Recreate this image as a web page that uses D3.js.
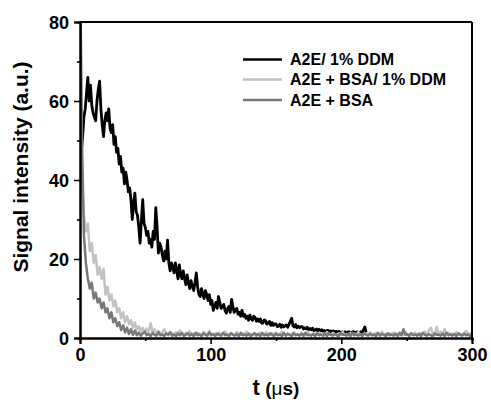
<!DOCTYPE html>
<html>
<head>
<meta charset="utf-8">
<script src="https://cdn.jsdelivr.net/npm/d3@7/dist/d3.min.js"></script>
<style>
  html, body { margin: 0; padding: 0; background: #fff; }
  svg text { font-family: "Liberation Sans", Arial, sans-serif; font-weight: bold; }
</style>
</head>
<body>
<div id="chart"></div>
<script>
// ---- data ----
const seriesNames = ["A2E/ 1% DDM", "A2E + BSA/ 1% DDM", "A2E + BSA"];
const xTicks = [0, 100, 200, 300];
const yTicks = [0, 20, 40, 60, 80];
const xMinorTicks = [50, 150, 250];
const yMinorTicks = [10, 30, 50, 70];

// A2E/ 1% DDM : sampled every 1 µs from t = 0
const blackStep = 1;
const blackValues = [
  48, 47, 51, 56, 58, 62, 66, 60, 64, 59,
  57, 56, 55, 60, 63, 65, 58, 54, 51, 55,
  57, 55, 58, 53, 52, 54, 49, 51, 47, 48,
  44, 46, 42, 43, 39, 42, 40, 37, 38, 35,
  30, 34, 36.7, 32, 31, 28, 24, 30, 35, 29,
  28, 26, 27, 24, 25, 23, 27, 25, 33, 28,
  21.5, 24, 23, 21, 19.5, 22, 20, 24.8, 19, 17,
  19, 18, 16.5, 19, 17, 15, 18.5, 16, 15, 17,
  15, 13.5, 16, 14, 12.5, 14.5, 13, 12, 14, 16.5,
  13, 11, 10.5, 12.5, 11, 10, 12, 11, 9.5, 11,
  8.5, 9.5, 7, 8, 9, 7.5, 10.5, 9, 7.5, 8,
  8.5, 7, 6.3, 7.5, 8, 6.5, 9.8, 8, 6.5, 7,
  7.5, 6, 6.5, 5.5, 7, 5.5, 6, 5, 5.5, 4.5,
  5.8, 4.8, 4.5, 5.5, 5.2, 4.2, 4.8, 4.2, 4.8, 3.8,
  3.8, 4.6, 4.4, 3.5, 3.8, 4.2, 3.2, 3.9, 3.2, 3.6,
  3.6, 2.9, 3, 3.5, 2.7, 3.3, 2.8, 3.1, 3.3, 2.7,
  3.5, 4.2, 5, 3.1, 2.8, 3.4, 2.6, 3.0, 2.6, 2.9,
  2.9, 2.3, 2.6, 2.3, 2.7, 2.1, 2.4, 2.1, 2.5, 1.9,
  2, 2.3, 1.8, 2.2, 1.8, 2.1, 1.7, 1.9, 1.6, 1.9,
  1.9, 1.5, 1.8, 1.5, 1.8, 1.4, 1.7, 1.4, 1.7, 1.5,
  1.4, 1.6, 1.3, 1.6, 1.3, 1.5, 1.6, 1.3, 1.4, 1.6,
  1.5, 1.3, 1.6, 1.3, 1.4, 1.6, 1.4, 2.1, 2.8, 1.4
];

// A2E + BSA/ 1% DDM : sampled every 1.5 µs from t = 0
const lightStep = 1.5;
const lightValues = [
  95, 42, 31, 27, 29, 22, 24, 19, 21, 16,
  18, 15, 17.5, 11, 13, 9.5, 11, 8, 9.5, 6.5,
  7.5, 5, 6.5, 4, 5.5, 3.5, 4.5, 2.5, 4, 2,
  3, 1.8, 2.6, 1.4, 2.4, 1.2, 3.8, 1.5, 2.2, 1.2,
  1.8, 1.0, 1.4, 2.2, 1.1, 0.9, 1.6, 1.2, 0.8, 1.5,
  1.1, 1.9, 1.0, 0.8, 1.3, 1.0, 1.7, 0.9, 1.2, 0.8,
  1.4, 1.0, 0.7, 1.5, 1.1, 0.9, 1.8, 1.0, 0.8, 1.2,
  0.9, 1.4, 0.8, 1.1, 1.6, 0.9, 0.7, 1.3, 1.0, 0.8,
  1.5, 1.0, 0.8, 1.2, 0.9, 1.6, 0.8, 1.1, 0.7, 1.3,
  1.0, 0.8, 1.4, 0.9, 0.7, 1.5, 1.0, 0.8, 1.2, 0.9,
  1.4, 0.8, 1.0, 1.6, 0.9, 0.7, 1.2, 1.0, 0.8, 1.5,
  0.9, 1.1, 0.7, 1.3, 1.0, 0.8, 1.6, 0.9, 0.7, 1.2,
  1.0, 0.8, 1.4, 0.9, 1.1, 0.7, 1.5, 0.9, 0.8, 1.3,
  1.0, 0.7, 1.2, 0.9, 1.6, 0.8, 1.0, 0.7, 1.3, 0.9,
  1.1, 0.8, 1.5, 0.9, 0.7, 1.2, 1.0, 0.8, 1.4, 0.9,
  0.7, 1.3, 1.0, 0.8, 1.6, 0.9, 1.1, 0.7, 1.2, 0.9,
  1.4, 0.8, 1.0, 0.7, 1.3, 0.9, 1.5, 0.8, 1.0, 1.2,
  0.8, 1.4, 0.9, 0.7, 1.2, 1.0, 1.6, 0.8, 1.9, 2.6,
  1.2, 0.9, 2.8, 1.0, 1.6, 0.8, 2.3, 1.0, 1.4, 0.8,
  1.2, 0.9, 1.5, 0.8, 1.1, 0.9, 1.3, 1.8, 0.8, 1.2, 0.9
];

// A2E + BSA : sampled every 1.5 µs from t = 0
const darkStep = 1.5;
const darkValues = [
  95, 50, 26, 19, 15, 12.5, 14, 10, 11.5, 9,
  10, 7.5, 9, 6.5, 7.5, 5, 6.5, 4, 5, 3,
  4, 2, 3.2, 1.4, 2.6, 1.0, 2.2, 0.8, 1.9, 0.7,
  1.4, 0.6, 1.2, 1.6, 0.7, 1.0, 0.5, 1.3, 0.8, 0.6,
  1.5, 0.7, 0.9, 0.5, 1.2, 0.8, 1.4, 0.6, 0.9, 0.5,
  1.1, 0.7, 1.3, 0.5, 0.8, 1.2, 0.6, 1.0, 0.5, 1.3,
  0.7, 0.9, 0.5, 1.2, 0.8, 0.6, 1.4, 0.7, 1.0, 0.5,
  1.1, 0.8, 0.6, 1.3, 0.7, 0.9, 0.5, 1.2, 0.8, 0.6,
  1.0, 0.5, 1.3, 0.7, 0.9, 0.6, 1.1, 0.5, 0.8, 1.2,
  0.6, 1.0, 0.5, 1.3, 0.7, 0.9, 0.6, 1.2, 0.8, 0.5,
  1.1, 0.7, 0.9, 0.5, 1.3, 0.6, 1.0, 0.8, 0.5, 1.2,
  0.7, 0.9, 0.6, 1.1, 0.5, 1.3, 0.7, 0.8, 0.6, 1.0,
  0.5, 1.2, 0.7, 0.9, 0.6, 1.1, 0.5, 1.3, 0.8, 0.6,
  1.0, 0.7, 0.5, 1.2, 0.8, 0.9, 0.6, 1.1, 0.5, 1.3,
  0.7, 0.9, 0.6, 1.0, 0.5, 1.2, 0.8, 0.6, 1.1, 0.7,
  0.9, 0.5, 1.3, 0.6, 1.0, 0.8, 0.5, 1.2, 0.7, 0.9,
  0.6, 1.1, 0.5, 1.3, 0.7, 2.2, 0.8, 1.0, 0.5, 1.2,
  0.7, 0.9, 0.6, 1.1, 0.5, 1.3, 0.8, 0.6, 1.0, 0.7,
  0.5, 1.2, 0.8, 0.9, 0.6, 1.1, 0.5, 1.3, 0.7, 0.9,
  0.6, 1.0, 0.5, 1.2, 0.8, 0.6, 1.1, 0.7, 0.9, 0.5, 1.0
];

// ---- layout ----
const W = 491, H = 400;
const margin = { left: 80, right: 19, top: 22, bottom: 62 };
const iw = W - margin.left - margin.right;
const ih = H - margin.top - margin.bottom;

const svg = d3.select("#chart").append("svg")
  .attr("width", W).attr("height", H);

const x = d3.scaleLinear().domain([0, 300]).range([margin.left, margin.left + iw]);
const y = d3.scaleLinear().domain([0, 80]).range([margin.top + ih, margin.top]);

svg.append("defs").append("clipPath").attr("id", "plotclip")
  .append("rect")
  .attr("x", margin.left).attr("y", margin.top)
  .attr("width", iw).attr("height", ih);

const toPts = (vals, step) => vals.map((v, i) => [i * step, v]);
const series = [
  { name: seriesNames[0], pts: toPts(blackValues, blackStep), color: "#000000", w: 2.8 },
  { name: seriesNames[1], pts: toPts(lightValues, lightStep), color: "#c2c2c2", w: 2.5 },
  { name: seriesNames[2], pts: toPts(darkValues, darkStep), color: "#787878", w: 2.5 }
];

const line = d3.line().x(d => x(d[0])).y(d => y(d[1]));
const g = svg.append("g").attr("clip-path", "url(#plotclip)");
series.forEach(s => {
  g.append("path").datum(s.pts)
    .attr("d", line)
    .attr("fill", "none")
    .attr("stroke", s.color)
    .attr("stroke-width", s.w)
    .attr("stroke-linejoin", "round");
});

// ---- axes ----
const axisFont = 18;
const xAxis = svg.append("g").attr("transform", `translate(0,${margin.top + ih})`)
  .call(d3.axisBottom(x).tickValues(xTicks).tickSize(6).tickPadding(4).tickFormat(d3.format("d")));
const xMinor = svg.append("g").attr("transform", `translate(0,${margin.top + ih})`)
  .call(d3.axisBottom(x).tickValues(xMinorTicks).tickSize(3).tickFormat(""));
const yAxis = svg.append("g").attr("transform", `translate(${margin.left},0)`)
  .call(d3.axisLeft(y).tickValues(yTicks).tickSize(6).tickPadding(5).tickFormat(d3.format("d")));
const yMinor = svg.append("g").attr("transform", `translate(${margin.left},0)`)
  .call(d3.axisLeft(y).tickValues(yMinorTicks).tickSize(3).tickFormat(""));

[xAxis, xMinor, yAxis, yMinor].forEach(a => {
  a.select(".domain").attr("stroke", "#000").attr("stroke-width", 2);
  a.selectAll(".tick line").attr("stroke", "#000").attr("stroke-width", 1.6);
  a.selectAll(".tick text")
    .attr("font-family", "Liberation Sans, Arial, sans-serif")
    .attr("font-weight", "bold")
    .attr("font-size", axisFont)
    .attr("fill", "#000");
});
yAxis.selectAll(".tick text").attr("dy", "0.36em");

// frame top and right
svg.append("line")
  .attr("x1", margin.left).attr("x2", margin.left + iw)
  .attr("y1", margin.top).attr("y2", margin.top)
  .attr("stroke", "#000").attr("stroke-width", 2);
svg.append("line")
  .attr("x1", margin.left + iw).attr("x2", margin.left + iw)
  .attr("y1", margin.top).attr("y2", margin.top + ih)
  .attr("stroke", "#000").attr("stroke-width", 2);

// ---- axis titles ----
svg.append("text")
  .attr("transform", `translate(28,167) rotate(-90)`)
  .attr("text-anchor", "middle")
  .attr("font-size", 21)
  .attr("fill", "#000")
  .text("Signal intensity (a.u.)");

const xt = svg.append("text")
  .attr("x", x(150)).attr("y", 395)
  .attr("text-anchor", "middle")
  .attr("fill", "#000");
xt.append("tspan").attr("font-size", 22).text("t");
xt.append("tspan").attr("font-size", 19).text(" (");
xt.append("tspan").attr("font-size", 19).attr("font-weight", "normal").text("μ");
xt.append("tspan").attr("font-size", 19).text("s)");

// ---- legend ----
const legendRows = [59.5, 79.5, 100];
series.forEach((s, i) => {
  svg.append("line")
    .attr("x1", 243).attr("x2", 282)
    .attr("y1", legendRows[i]).attr("y2", legendRows[i])
    .attr("stroke", s.color).attr("stroke-width", 2.3);
  svg.append("text")
    .attr("x", 290).attr("y", legendRows[i])
    .attr("dy", "0.36em")
    .attr("font-size", 16)
    .attr("fill", "#000")
    .text(s.name);
});
</script>
</body>
</html>
